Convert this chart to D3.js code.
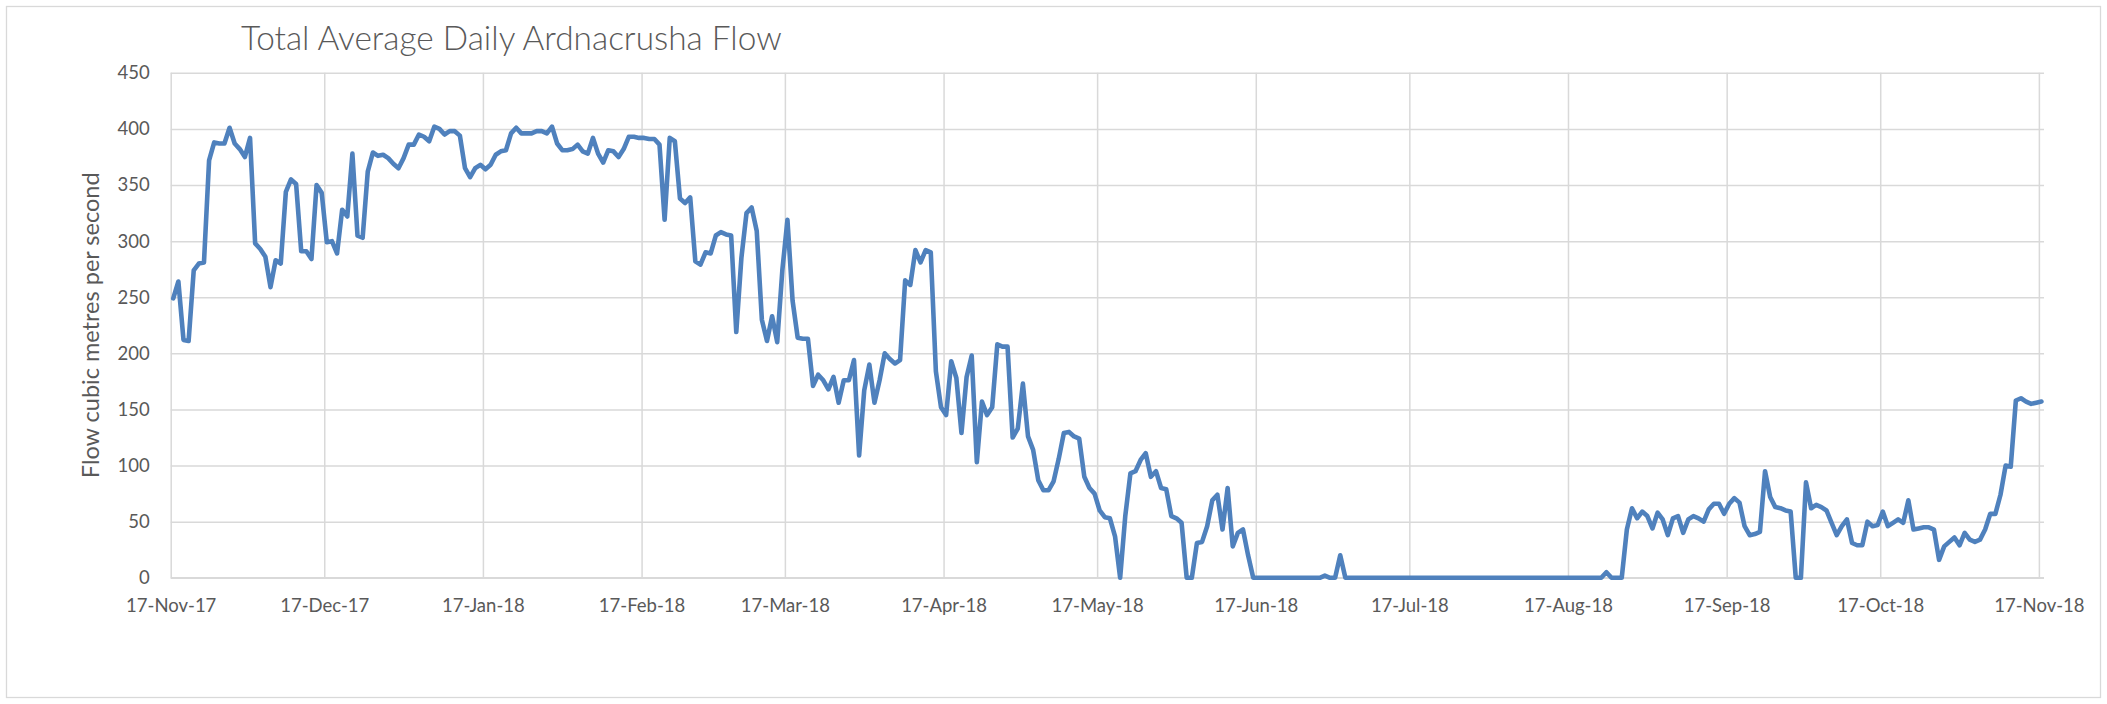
<!DOCTYPE html>
<html>
<head>
<meta charset="utf-8">
<script src="https://cdn.jsdelivr.net/npm/d3@7/dist/d3.min.js"></script>
<style>
  html, body { margin: 0; padding: 0; background: #ffffff; }
  svg { display: block; }
  text { font-family: Lato, "Open Sans", "Liberation Sans", sans-serif; fill: #595959; }
</style>
</head>
<body>
<svg id="chart" width="2107" height="704"></svg>
<script>
// Daily mean flow (m³/s), one array per month starting on the 17th
const startDate = "17-Nov-17";
const flowNov17 = [249,264,212,211,274,280,281,372,388,387,387,401,387,382,375,392,298,293,286,259,283,280,344,355,351,291,291,284,350,343];
const flowDec17 = [299,300,289,328,322,378,305,303,362,379,376,377,374,369,365,374,386,386,395,393,389,402,400,395,398,398,394,365,357,365,368];
const flowJan18 = [364,368,377,380,381,396,401,396,396,396,398,398,396,402,387,381,381,382,386,380,378,392,378,370,381,380,375,382,393,393,392];
const flowFeb18 = [392,391,391,386,319,392,389,338,334,339,282,279,290,289,305,308,306,305,219,285,325,330,309,230,211,233,210,274];
const flowMar18 = [319,247,214,213,213,171,181,176,168,179,156,176,176,194,109,167,190,156,176,200,195,191,194,265,261,292,281,292,290,184,152];
const flowApr18 = [145,193,178,129,179,198,103,157,145,152,208,206,206,125,133,173,126,114,87,78,78,86,106,129,130,126,124,90,80,75];
const flowMay18 = [60,54,53,37,0,55,93,95,105,111,90,95,80,79,55,53,49,0,0,31,32,46,69,74,43,80,28,40,43,20,0];
const flowJun18 = [0,0,0,0,0,0,0,0,0,0,0,0,0,2,0,0,20,0,0,0,0,0,0,0,0,0,0,0,0,0];
const flowJul18 = [0,0,0,0,0,0,0,0,0,0,0,0,0,0,0,0,0,0,0,0,0,0,0,0,0,0,0,0,0,0,0];
const flowAug18 = [0,0,0,0,0,0,0,5,0,0,0,43,62,53,59,55,44,58,52,38,53,55,40,52,55,53,50,61,66,66,57];
const flowSep18 = [66,71,67,46,38,39,41,95,72,63,62,60,59,0,0,85,62,65,63,60,49,38,46,52,31,29,29,50,46,47];
const flowOct18 = [59,46,49,52,49,69,43,44,45,45,43,16,28,32,36,29,40,34,32,34,43,57,57,74,100,99,158,160,157,155,156];
const flowNov18 = [157];

const xTickLabels = ["17-Nov-17","17-Dec-17","17-Jan-18","17-Feb-18","17-Mar-18","17-Apr-18",
                     "17-May-18","17-Jun-18","17-Jul-18","17-Aug-18","17-Sep-18","17-Oct-18","17-Nov-18"];
const yTicks = [0,50,100,150,200,250,300,350,400,450];

const titleText = "Total Average Daily Ardnacrusha Flow";
const yAxisTitle = "Flow cubic metres per second";

// ---- build the series ----
const parseLabel = d3.timeParse("%d-%b-%y");
const fmtLabel = d3.timeFormat("%d-%b-%y");
const day0 = parseLabel(startDate);
const flow = [].concat(flowNov17, flowDec17, flowJan18, flowFeb18, flowMar18, flowApr18,
                       flowMay18, flowJun18, flowJul18, flowAug18, flowSep18, flowOct18, flowNov18);
const series = flow.map((v, i) => ({ date: d3.timeDay.offset(day0, i), value: v }));
const tickDates = xTickLabels.map(parseLabel);

// ---- layout ----
const svg = d3.select("#chart");
const W = 2107, H = 704;
const plot = { left: 170.7, right: 2044, top: 72.8, bottom: 577.8 };

// each day occupies one slot; points sit in the middle of their day
const x = d3.scaleTime()
  .domain([day0, d3.timeDay.offset(day0, flow.length)])
  .range([plot.left, plot.right]);
const xMid = d => x(d3.timeHour.offset(d, 12));
const y = d3.scaleLinear().domain([0, 450]).range([plot.bottom, plot.top]);

// chart frame
svg.append("rect")
  .attr("x", 6.5).attr("y", 6.5)
  .attr("width", W - 13).attr("height", H - 13)
  .attr("fill", "#ffffff").attr("stroke", "#d9d9d9").attr("stroke-width", 1.3);

// horizontal gridlines
const yAxis = d3.axisLeft(y).tickValues(yTicks).tickSize(-(plot.right - plot.left)).tickPadding(21);
const gy = svg.append("g").attr("transform", `translate(${plot.left},0)`).call(yAxis);
gy.select(".domain").remove();
gy.selectAll(".tick line").attr("stroke", "#d9d9d9").attr("stroke-width", 1.5);
gy.selectAll(".tick text")
  .attr("font-size", 18.5).attr("fill", "#595959")
  .style("font-family", "Lato, 'Open Sans', sans-serif");

// vertical gridlines + date labels
const xAxis = d3.axisBottom(x).tickValues(tickDates).tickFormat(fmtLabel)
  .tickSize(-(plot.bottom - plot.top)).tickPadding(0);
const gx = svg.append("g").attr("transform", `translate(0,${plot.bottom})`).call(xAxis);
gx.select(".domain").remove();
gx.selectAll(".tick line").attr("stroke", "#d9d9d9").attr("stroke-width", 1.5);
gx.selectAll(".tick text")
  .attr("y", 21).attr("dy", "0.71em")
  .attr("font-size", 18.5).attr("fill", "#595959")
  .style("font-family", "Lato, 'Open Sans', sans-serif");

// horizontal axis line
svg.append("line")
  .attr("x1", plot.left).attr("x2", plot.right)
  .attr("y1", y(0)).attr("y2", y(0))
  .attr("stroke", "#d9d9d9").attr("stroke-width", 1.5);

// flow line
const line = d3.line().x(d => xMid(d.date)).y(d => y(d.value));
svg.append("path")
  .datum(series)
  .attr("d", line)
  .attr("fill", "none")
  .attr("stroke", "#4f81bd")
  .attr("stroke-width", 4.6)
  .attr("stroke-linejoin", "round")
  .attr("stroke-linecap", "round");

// title
svg.append("text")
  .attr("x", 241).attr("y", 50)
  .attr("font-size", 33.4)
  .attr("font-weight", 300)
  .attr("fill", "#595959")
  .text(titleText);

// y-axis title
svg.append("text")
  .attr("transform", `translate(99,${(plot.top + plot.bottom) / 2}) rotate(-90)`)
  .attr("text-anchor", "middle")
  .attr("font-size", 23.5)
  .attr("fill", "#595959")
  .text(yAxisTitle);
</script>
</body>
</html>
